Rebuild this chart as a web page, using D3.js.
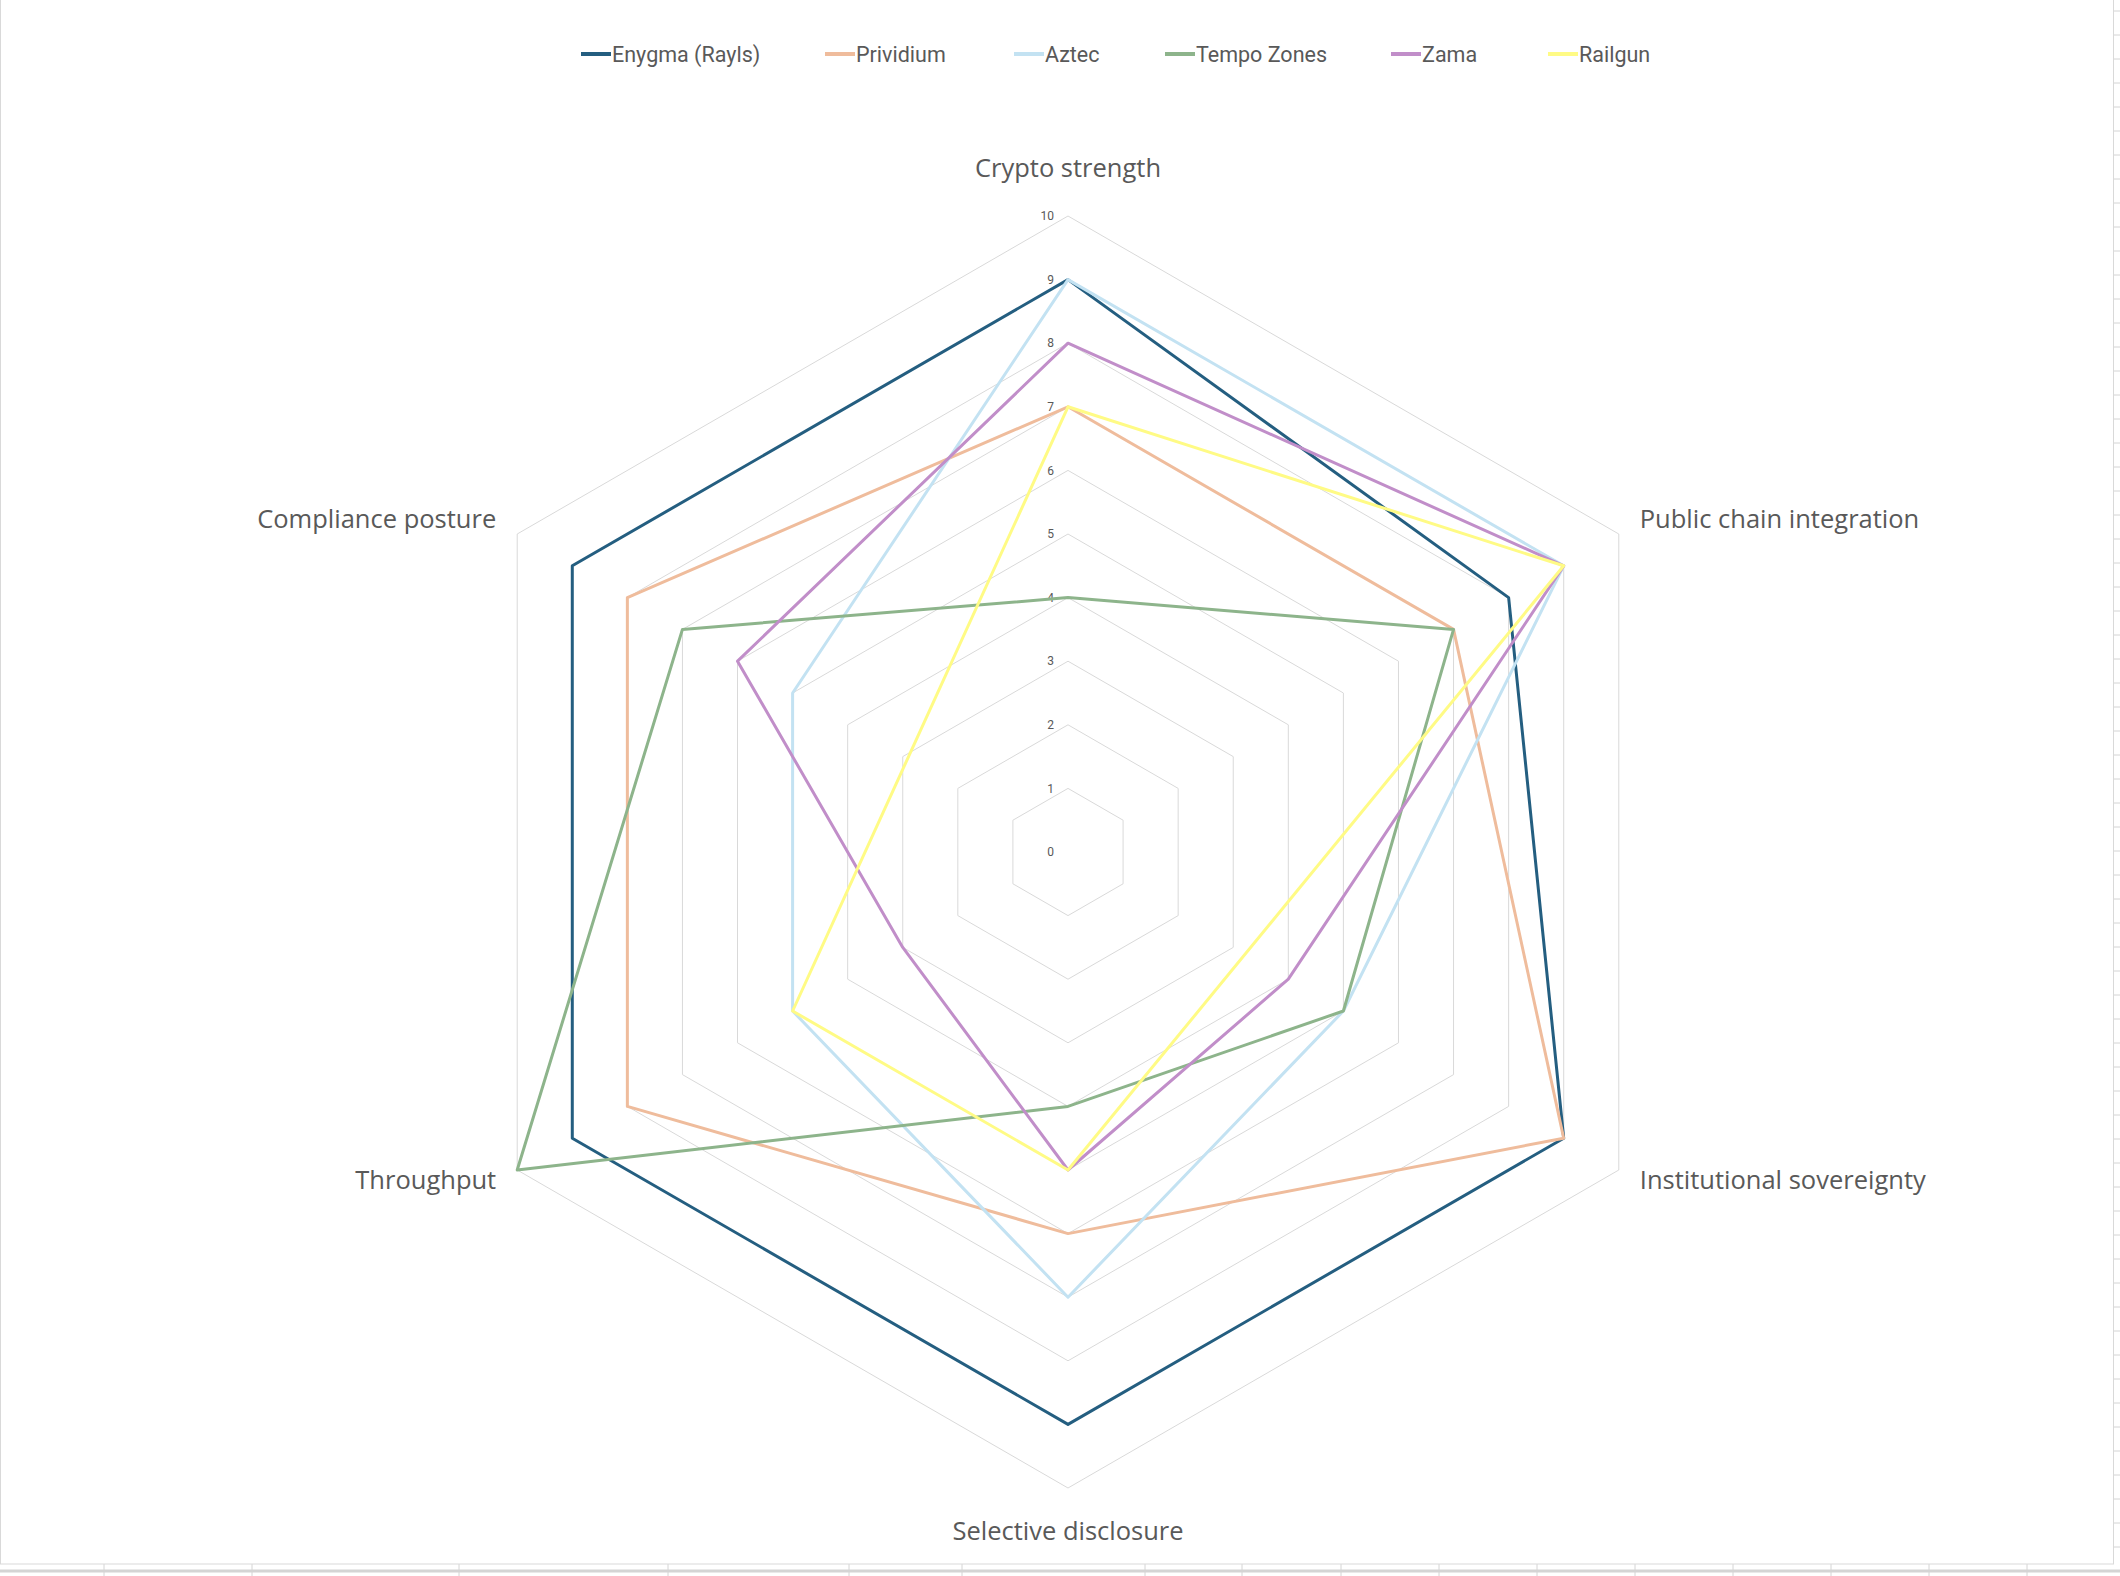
<!DOCTYPE html>
<html lang="en">
<head>
    <meta charset="UTF-8">
    <title>Privacy platforms radar</title>
    <script src="https://d3js.org/d3.v7.min.js"></script>
    <style>
        body { margin: 0; background: #fff; }
        text { fill: #595959; }
    </style>
</head>
<body>
    <script>
        const axes = ["Crypto strength", "Public chain integration", "Institutional sovereignty",
                      "Selective disclosure", "Throughput", "Compliance posture"];
        const seriesNames = ["Enygma (Rayls)", "Prividium", "Aztec", "Tempo Zones", "Zama", "Railgun"];
        const enygma   = [9, 8, 9, 9, 9, 9];
        const prividium = [7, 7, 9, 6, 8, 8];
        const aztec    = [9, 9, 5, 7, 5, 5];
        const tempo    = [4, 7, 5, 4, 10, 7];
        const zama     = [8, 9, 4, 5, 3, 6];
        const railgun  = [7, 9, null, 5, 5, null]; // blanks, Excel joins across them
        const tickValues = [0, 1, 2, 3, 4, 5, 6, 7, 8, 9, 10];
        const colors = ["#245e80", "#efbc9c", "#c3e2f2", "#8db48b", "#c18ec9", "#fffb85"];

        const allSeries = [enygma, prividium, aztec, tempo, zama, railgun];

        const width = 2120, height = 1576;
        const cx = 1068, cy = 852, R = 636;

        const svg = d3.select("body").append("svg")
            .attr("width", width)
            .attr("height", height);

        // spreadsheet peeking out round the chart area
        const sheet = svg.append("g").attr("stroke", "#d4d4d4").attr("fill", "none");
        d3.range(11, 1564, 24).forEach(y => {
            sheet.append("line").attr("x1", 2114).attr("x2", width).attr("y1", y).attr("y2", y);
        });
        sheet.append("line").attr("x1", 0).attr("x2", width).attr("y1", 1571).attr("y2", 1571)
            .attr("stroke-width", 3);
        [104, 252, 459, 668, 849, 962, 1145, 1242, 1341, 1439, 1537, 1635, 1733, 1831, 1929, 2027]
            .forEach(x => {
                sheet.append("line").attr("x1", x).attr("x2", x).attr("y1", 1564).attr("y2", height);
            });
        sheet.append("rect").attr("x", 0.5).attr("y", -2).attr("width", 2113).attr("height", 1566)
            .attr("fill", "#fff").attr("stroke", "#d9d9d9");

        const r = d3.scaleLinear().domain([0, 10]).range([0, R]);
        const angle = d3.scaleLinear().domain([0, axes.length]).range([0, 2 * Math.PI]);

        const radial = d3.lineRadial()
            .angle(d => angle(d.i))
            .radius(d => r(d.v))
            .curve(d3.curveLinearClosed);

        const g = svg.append("g").attr("transform", `translate(${cx},${cy})`);

        // grid rings
        g.selectAll(".ring").data(tickValues.slice(1)).join("path")
            .attr("class", "ring")
            .attr("d", t => radial(axes.map((a, i) => ({ i, v: t }))))
            .attr("fill", "none")
            .attr("stroke", "#d9d9d9")
            .attr("stroke-width", 1);

        // value labels on the top spoke
        g.selectAll(".tick").data(tickValues).join("text")
            .attr("class", "tick")
            .attr("x", -14)
            .attr("y", t => -r(t))
            .attr("dy", "0.35em")
            .attr("text-anchor", "end")
            .attr("font-family", "Roboto, sans-serif")
            .attr("font-size", 12)
            .text(t => t);

        // category labels
        g.selectAll(".cat").data(axes).join("text")
            .attr("class", "cat")
            .each(function (d, i) {
                const a = angle(i);
                const sx = Math.sin(a), sy = -Math.cos(a);
                const el = d3.select(this);
                if (Math.abs(sx) < 0.01) {
                    el.attr("x", 0).attr("y", sy * (R + (sy < 0 ? 48 : 43))).attr("text-anchor", "middle");
                } else {
                    el.attr("x", sx * R + (sx > 0 ? 21 : -21))
                      .attr("y", sy * R + (sy < 0 ? -15 : 10))
                      .attr("text-anchor", sx > 0 ? "start" : "end");
                }
            })
            .attr("dy", "0.35em")
            .attr("font-family", "'Open Sans', sans-serif")
            .attr("font-size", 25.5)
            .text(d => d);

        // series
        g.selectAll(".series").data(allSeries).join("path")
            .attr("class", "series")
            .attr("d", vals => radial(vals.map((v, i) => ({ i, v })).filter(p => p.v !== null)))
            .attr("fill", "none")
            .attr("stroke", (d, k) => colors[k])
            .attr("stroke-width", 3)
            .attr("stroke-linejoin", "round");

        // legend
        const legendX = [581, 825, 1014, 1165, 1391, 1548];
        const legend = svg.append("g").attr("transform", "translate(0,54)");
        const items = legend.selectAll("g").data(seriesNames).join("g")
            .attr("transform", (d, k) => `translate(${legendX[k]},0)`);
        items.append("line")
            .attr("x1", 0).attr("x2", 30)
            .attr("stroke", (d, k) => colors[k])
            .attr("stroke-width", 4);
        items.append("text")
            .attr("x", 31)
            .attr("dy", "0.35em")
            .attr("font-family", "'Liberation Sans Narrow', 'Roboto', sans-serif")
            .attr("font-size", 21.5)
            .text(d => d);
    </script>
</body>
</html>
